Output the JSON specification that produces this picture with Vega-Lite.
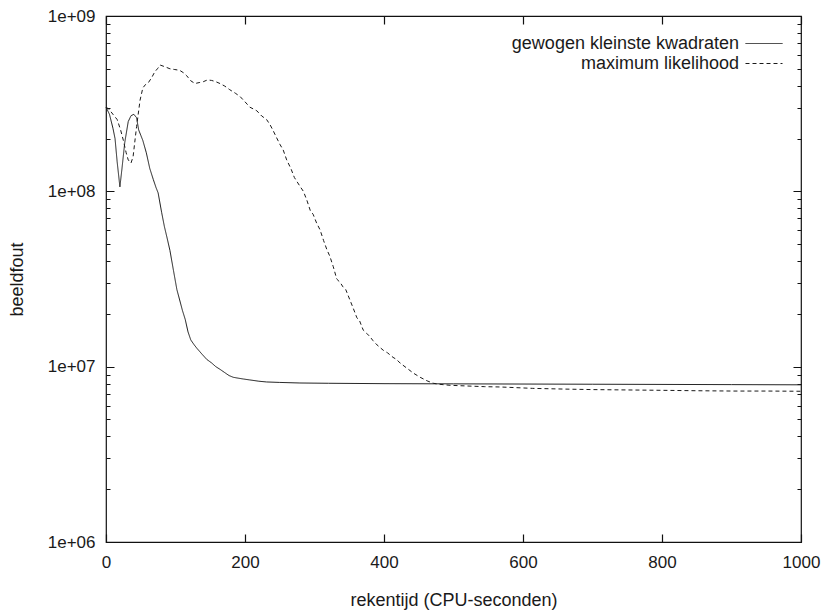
{
  "$schema": "https://vega.github.io/schema/vega-lite/v6.json",
  "width": 695,
  "height": 526,
  "autosize": {"type": "none"},
  "padding": {"left": 106, "top": 16, "right": 21, "bottom": 68},
  "background": "white",
  "config": {
    "view": {"stroke": "#111111", "strokeWidth": 1.2},
    "font": "Liberation Sans",
    "axis": {
      "labelFont": "Liberation Sans",
      "labelFontSize": 17,
      "labelColor": "#1a1a1a",
      "titleFont": "Liberation Sans",
      "titleFontSize": 18,
      "titleFontWeight": "normal",
      "titleColor": "#1a1a1a",
      "ticks": false,
      "domain": false,
      "gridColor": "#111111",
      "gridOpacity": 1,
      "gridWidth": 1.2,
      "gridCap": "butt"
    },
    "legend": {
      "orient": "none",
      "legendX": 639,
      "legendY": 17,
      "padding": 0,
      "symbolType": "M-1,0H2.7",
      "symbolSize": 400,
      "symbolStrokeWidth": 1,
      "symbolStrokeColor": "#1a1a1a",
      "labelFont": "Liberation Sans",
      "labelFontSize": 18,
      "labelColor": "#1a1a1a",
      "labelAlign": "right",
      "labelOffset": -27,
      "labelLimit": 0,
      "rowPadding": 0
    }
  },
  "datasets": {
    "curves": [
      {"methode": "gewogen kleinste kwadraten", "tijd": 0, "fout": 3.02e8},
      {"methode": "gewogen kleinste kwadraten", "tijd": 5, "fout": 2.75e8},
      {"methode": "gewogen kleinste kwadraten", "tijd": 10, "fout": 2.29e8},
      {"methode": "gewogen kleinste kwadraten", "tijd": 13, "fout": 2.0e8},
      {"methode": "gewogen kleinste kwadraten", "tijd": 16, "fout": 1.48e8},
      {"methode": "gewogen kleinste kwadraten", "tijd": 20, "fout": 1.06e8},
      {"methode": "gewogen kleinste kwadraten", "tijd": 23, "fout": 1.35e8},
      {"methode": "gewogen kleinste kwadraten", "tijd": 27, "fout": 1.9e8},
      {"methode": "gewogen kleinste kwadraten", "tijd": 32, "fout": 2.5e8},
      {"methode": "gewogen kleinste kwadraten", "tijd": 36, "fout": 2.7e8},
      {"methode": "gewogen kleinste kwadraten", "tijd": 40, "fout": 2.75e8},
      {"methode": "gewogen kleinste kwadraten", "tijd": 44, "fout": 2.63e8},
      {"methode": "gewogen kleinste kwadraten", "tijd": 47, "fout": 2.24e8},
      {"methode": "gewogen kleinste kwadraten", "tijd": 50, "fout": 2.09e8},
      {"methode": "gewogen kleinste kwadraten", "tijd": 53, "fout": 1.95e8},
      {"methode": "gewogen kleinste kwadraten", "tijd": 58, "fout": 1.66e8},
      {"methode": "gewogen kleinste kwadraten", "tijd": 63, "fout": 1.35e8},
      {"methode": "gewogen kleinste kwadraten", "tijd": 68, "fout": 1.17e8},
      {"methode": "gewogen kleinste kwadraten", "tijd": 72, "fout": 1.05e8},
      {"methode": "gewogen kleinste kwadraten", "tijd": 75, "fout": 9.8e7},
      {"methode": "gewogen kleinste kwadraten", "tijd": 80, "fout": 7.6e7},
      {"methode": "gewogen kleinste kwadraten", "tijd": 84, "fout": 6.3e7},
      {"methode": "gewogen kleinste kwadraten", "tijd": 88, "fout": 5.4e7},
      {"methode": "gewogen kleinste kwadraten", "tijd": 92, "fout": 4.6e7},
      {"methode": "gewogen kleinste kwadraten", "tijd": 97, "fout": 3.55e7},
      {"methode": "gewogen kleinste kwadraten", "tijd": 102, "fout": 2.75e7},
      {"methode": "gewogen kleinste kwadraten", "tijd": 106, "fout": 2.4e7},
      {"methode": "gewogen kleinste kwadraten", "tijd": 110, "fout": 2.09e7},
      {"methode": "gewogen kleinste kwadraten", "tijd": 114, "fout": 1.86e7},
      {"methode": "gewogen kleinste kwadraten", "tijd": 118, "fout": 1.58e7},
      {"methode": "gewogen kleinste kwadraten", "tijd": 122, "fout": 1.42e7},
      {"methode": "gewogen kleinste kwadraten", "tijd": 127, "fout": 1.33e7},
      {"methode": "gewogen kleinste kwadraten", "tijd": 131, "fout": 1.27e7},
      {"methode": "gewogen kleinste kwadraten", "tijd": 138, "fout": 1.18e7},
      {"methode": "gewogen kleinste kwadraten", "tijd": 145, "fout": 1.1e7},
      {"methode": "gewogen kleinste kwadraten", "tijd": 152, "fout": 1.05e7},
      {"methode": "gewogen kleinste kwadraten", "tijd": 158, "fout": 1.0e7},
      {"methode": "gewogen kleinste kwadraten", "tijd": 164, "fout": 9.66e6},
      {"methode": "gewogen kleinste kwadraten", "tijd": 170, "fout": 9.3e6},
      {"methode": "gewogen kleinste kwadraten", "tijd": 177, "fout": 8.9e6},
      {"methode": "gewogen kleinste kwadraten", "tijd": 183, "fout": 8.7e6},
      {"methode": "gewogen kleinste kwadraten", "tijd": 190, "fout": 8.6e6},
      {"methode": "gewogen kleinste kwadraten", "tijd": 198, "fout": 8.5e6},
      {"methode": "gewogen kleinste kwadraten", "tijd": 207, "fout": 8.4e6},
      {"methode": "gewogen kleinste kwadraten", "tijd": 220, "fout": 8.26e6},
      {"methode": "gewogen kleinste kwadraten", "tijd": 231, "fout": 8.18e6},
      {"methode": "gewogen kleinste kwadraten", "tijd": 250, "fout": 8.13e6},
      {"methode": "gewogen kleinste kwadraten", "tijd": 279, "fout": 8.07e6},
      {"methode": "gewogen kleinste kwadraten", "tijd": 320, "fout": 8.04e6},
      {"methode": "gewogen kleinste kwadraten", "tijd": 400, "fout": 8.0e6},
      {"methode": "gewogen kleinste kwadraten", "tijd": 500, "fout": 7.98e6},
      {"methode": "gewogen kleinste kwadraten", "tijd": 600, "fout": 7.96e6},
      {"methode": "gewogen kleinste kwadraten", "tijd": 700, "fout": 7.94e6},
      {"methode": "gewogen kleinste kwadraten", "tijd": 800, "fout": 7.92e6},
      {"methode": "gewogen kleinste kwadraten", "tijd": 900, "fout": 7.9e6},
      {"methode": "gewogen kleinste kwadraten", "tijd": 1000, "fout": 7.88e6},
      {"methode": "maximum likelihood", "tijd": 0, "fout": 3.02e8},
      {"methode": "maximum likelihood", "tijd": 4, "fout": 2.95e8},
      {"methode": "maximum likelihood", "tijd": 10, "fout": 2.75e8},
      {"methode": "maximum likelihood", "tijd": 16, "fout": 2.57e8},
      {"methode": "maximum likelihood", "tijd": 21, "fout": 2.24e8},
      {"methode": "maximum likelihood", "tijd": 25, "fout": 1.95e8},
      {"methode": "maximum likelihood", "tijd": 29, "fout": 1.66e8},
      {"methode": "maximum likelihood", "tijd": 32, "fout": 1.51e8},
      {"methode": "maximum likelihood", "tijd": 36, "fout": 1.45e8},
      {"methode": "maximum likelihood", "tijd": 39, "fout": 1.58e8},
      {"methode": "maximum likelihood", "tijd": 42, "fout": 2.0e8},
      {"methode": "maximum likelihood", "tijd": 44, "fout": 2.34e8},
      {"methode": "maximum likelihood", "tijd": 47, "fout": 2.88e8},
      {"methode": "maximum likelihood", "tijd": 49, "fout": 3.31e8},
      {"methode": "maximum likelihood", "tijd": 53, "fout": 3.89e8},
      {"methode": "maximum likelihood", "tijd": 57, "fout": 4.07e8},
      {"methode": "maximum likelihood", "tijd": 61, "fout": 4.17e8},
      {"methode": "maximum likelihood", "tijd": 66, "fout": 4.47e8},
      {"methode": "maximum likelihood", "tijd": 70, "fout": 4.79e8},
      {"methode": "maximum likelihood", "tijd": 74, "fout": 5.0e8},
      {"methode": "maximum likelihood", "tijd": 78, "fout": 5.25e8},
      {"methode": "maximum likelihood", "tijd": 85, "fout": 5.13e8},
      {"methode": "maximum likelihood", "tijd": 92, "fout": 5.0e8},
      {"methode": "maximum likelihood", "tijd": 99, "fout": 4.95e8},
      {"methode": "maximum likelihood", "tijd": 106, "fout": 4.9e8},
      {"methode": "maximum likelihood", "tijd": 112, "fout": 4.73e8},
      {"methode": "maximum likelihood", "tijd": 116, "fout": 4.57e8},
      {"methode": "maximum likelihood", "tijd": 122, "fout": 4.27e8},
      {"methode": "maximum likelihood", "tijd": 128, "fout": 4.12e8},
      {"methode": "maximum likelihood", "tijd": 134, "fout": 4.17e8},
      {"methode": "maximum likelihood", "tijd": 140, "fout": 4.22e8},
      {"methode": "maximum likelihood", "tijd": 146, "fout": 4.32e8},
      {"methode": "maximum likelihood", "tijd": 152, "fout": 4.29e8},
      {"methode": "maximum likelihood", "tijd": 158, "fout": 4.22e8},
      {"methode": "maximum likelihood", "tijd": 164, "fout": 4.12e8},
      {"methode": "maximum likelihood", "tijd": 171, "fout": 3.98e8},
      {"methode": "maximum likelihood", "tijd": 178, "fout": 3.8e8},
      {"methode": "maximum likelihood", "tijd": 186, "fout": 3.63e8},
      {"methode": "maximum likelihood", "tijd": 193, "fout": 3.47e8},
      {"methode": "maximum likelihood", "tijd": 200, "fout": 3.24e8},
      {"methode": "maximum likelihood", "tijd": 207, "fout": 3.02e8},
      {"methode": "maximum likelihood", "tijd": 212, "fout": 2.95e8},
      {"methode": "maximum likelihood", "tijd": 217, "fout": 2.88e8},
      {"methode": "maximum likelihood", "tijd": 224, "fout": 2.69e8},
      {"methode": "maximum likelihood", "tijd": 231, "fout": 2.57e8},
      {"methode": "maximum likelihood", "tijd": 236, "fout": 2.4e8},
      {"methode": "maximum likelihood", "tijd": 240, "fout": 2.24e8},
      {"methode": "maximum likelihood", "tijd": 245, "fout": 2.04e8},
      {"methode": "maximum likelihood", "tijd": 250, "fout": 1.86e8},
      {"methode": "maximum likelihood", "tijd": 255, "fout": 1.72e8},
      {"methode": "maximum likelihood", "tijd": 260, "fout": 1.51e8},
      {"methode": "maximum likelihood", "tijd": 266, "fout": 1.35e8},
      {"methode": "maximum likelihood", "tijd": 271, "fout": 1.2e8},
      {"methode": "maximum likelihood", "tijd": 279, "fout": 1.07e8},
      {"methode": "maximum likelihood", "tijd": 284, "fout": 1.0e8},
      {"methode": "maximum likelihood", "tijd": 289, "fout": 8.9e7},
      {"methode": "maximum likelihood", "tijd": 294, "fout": 7.76e7},
      {"methode": "maximum likelihood", "tijd": 298, "fout": 7.4e7},
      {"methode": "maximum likelihood", "tijd": 303, "fout": 6.6e7},
      {"methode": "maximum likelihood", "tijd": 308, "fout": 6.03e7},
      {"methode": "maximum likelihood", "tijd": 313, "fout": 5.25e7},
      {"methode": "maximum likelihood", "tijd": 318, "fout": 4.63e7},
      {"methode": "maximum likelihood", "tijd": 322, "fout": 4.27e7},
      {"methode": "maximum likelihood", "tijd": 327, "fout": 3.72e7},
      {"methode": "maximum likelihood", "tijd": 332, "fout": 3.16e7},
      {"methode": "maximum likelihood", "tijd": 337, "fout": 3.02e7},
      {"methode": "maximum likelihood", "tijd": 341, "fout": 2.85e7},
      {"methode": "maximum likelihood", "tijd": 345, "fout": 2.75e7},
      {"methode": "maximum likelihood", "tijd": 351, "fout": 2.4e7},
      {"methode": "maximum likelihood", "tijd": 356, "fout": 2.14e7},
      {"methode": "maximum likelihood", "tijd": 361, "fout": 1.9e7},
      {"methode": "maximum likelihood", "tijd": 365, "fout": 1.82e7},
      {"methode": "maximum likelihood", "tijd": 370, "fout": 1.62e7},
      {"methode": "maximum likelihood", "tijd": 375, "fout": 1.55e7},
      {"methode": "maximum likelihood", "tijd": 380, "fout": 1.48e7},
      {"methode": "maximum likelihood", "tijd": 384, "fout": 1.41e7},
      {"methode": "maximum likelihood", "tijd": 390, "fout": 1.33e7},
      {"methode": "maximum likelihood", "tijd": 399, "fout": 1.24e7},
      {"methode": "maximum likelihood", "tijd": 405, "fout": 1.2e7},
      {"methode": "maximum likelihood", "tijd": 413, "fout": 1.13e7},
      {"methode": "maximum likelihood", "tijd": 418, "fout": 1.1e7},
      {"methode": "maximum likelihood", "tijd": 423, "fout": 1.05e7},
      {"methode": "maximum likelihood", "tijd": 433, "fout": 9.8e6},
      {"methode": "maximum likelihood", "tijd": 442, "fout": 9.2e6},
      {"methode": "maximum likelihood", "tijd": 452, "fout": 8.7e6},
      {"methode": "maximum likelihood", "tijd": 462, "fout": 8.3e6},
      {"methode": "maximum likelihood", "tijd": 471, "fout": 8.04e6},
      {"methode": "maximum likelihood", "tijd": 480, "fout": 7.93e6},
      {"methode": "maximum likelihood", "tijd": 495, "fout": 7.83e6},
      {"methode": "maximum likelihood", "tijd": 519, "fout": 7.76e6},
      {"methode": "maximum likelihood", "tijd": 545, "fout": 7.69e6},
      {"methode": "maximum likelihood", "tijd": 567, "fout": 7.66e6},
      {"methode": "maximum likelihood", "tijd": 614, "fout": 7.52e6},
      {"methode": "maximum likelihood", "tijd": 660, "fout": 7.45e6},
      {"methode": "maximum likelihood", "tijd": 700, "fout": 7.4e6},
      {"methode": "maximum likelihood", "tijd": 758, "fout": 7.36e6},
      {"methode": "maximum likelihood", "tijd": 800, "fout": 7.33e6},
      {"methode": "maximum likelihood", "tijd": 850, "fout": 7.29e6},
      {"methode": "maximum likelihood", "tijd": 902, "fout": 7.26e6},
      {"methode": "maximum likelihood", "tijd": 950, "fout": 7.26e6},
      {"methode": "maximum likelihood", "tijd": 1000, "fout": 7.24e6}
    ]
  },
  "data": {"name": "curves"},
  "layer": [
    {
      "mark": {"type": "line", "color": "#1a1a1a", "strokeWidth": 1},
      "encoding": {
        "x": {
          "field": "tijd", "type": "quantitative",
          "scale": {"domain": [0, 1000], "nice": false, "zero": false},
          "axis": {
            "orient": "bottom", "values": [0, 200, 400, 600, 800, 1000], "format": "d",
            "grid": true, "gridDash": [8, 510, 8, 20000],
            "labelPadding": 12, "labelFlush": false,
            "title": "rekentijd (CPU-seconden)", "titleY": 58, "titleBaseline": "middle"
          }
        },
        "y": {
          "field": "fout", "type": "quantitative",
          "scale": {"type": "log", "domain": [1000000, 1000000000], "nice": false},
          "axis": {
            "orient": "left", "values": [1000000, 10000000, 100000000, 1000000000],
            "grid": true, "gridDash": [8, 679, 8, 20000],
            "labelPadding": 11, "labelFlush": false,
            "labelExpr": "'1e+0' + round(log(datum.value) / LN10)",
            "title": "beeldfout", "titleX": -89, "titleY": 263, "titleAngle": 270,
            "titleAlign": "center", "titleBaseline": "middle"
          }
        },
        "strokeDash": {
          "field": "methode", "type": "nominal",
          "scale": {"domain": ["gewogen kleinste kwadraten", "maximum likelihood"], "range": [[1, 0], [4, 3]]},
          "legend": {"title": null}
        }
      }
    },
    {
      "mark": {"type": "point", "opacity": 0, "size": 1},
      "encoding": {
        "x": {"field": "tijd", "type": "quantitative", "axis": null},
        "y": {"field": "fout", "type": "quantitative",
          "axis": {"orient": "left", "values": [2000000, 3000000, 4000000, 5000000, 6000000, 7000000, 8000000, 9000000, 20000000, 30000000, 40000000, 50000000, 60000000, 70000000, 80000000, 90000000, 200000000, 300000000, 400000000, 500000000, 600000000, 700000000, 800000000, 900000000],
            "labels": false, "title": null, "grid": true, "gridDash": [4, 687, 4, 20000]}}
      }
    }
  ],
  "resolve": {"axis": {"x": "independent", "y": "independent"}}
}
